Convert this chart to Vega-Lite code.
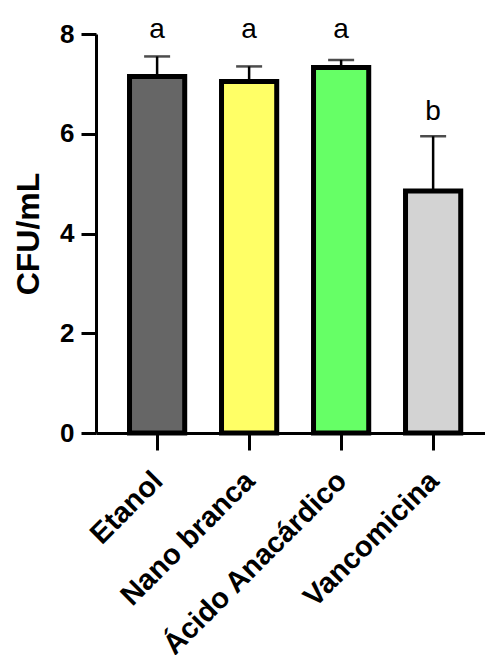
{
  "$schema": "https://vega.github.io/schema/vega-lite/v6.json",
  "width": 389,
  "height": 399,
  "autosize": {"type": "none"},
  "padding": {"left": 96, "top": 34, "right": 0, "bottom": 222},
  "background": "white",
  "config": {
    "view": {"stroke": null},
    "font": "Liberation Sans",
    "axis": {
      "domainColor": "black",
      "domainWidth": 3,
      "tickColor": "black",
      "tickWidth": 3,
      "grid": false,
      "labelColor": "black",
      "titleColor": "black",
      "labelFont": "Liberation Sans",
      "titleFont": "Liberation Sans"
    }
  },
  "data": {
    "values": [
      {"grupo": "Etanol", "media": 7.15, "erro": 7.55, "letra": "a", "letra_y": 7.92},
      {"grupo": "Nano branca", "media": 7.05, "erro": 7.35, "letra": "a", "letra_y": 7.92},
      {"grupo": "Ácido Anacárdico", "media": 7.33, "erro": 7.48, "letra": "a", "letra_y": 7.92},
      {"grupo": "Vancomicina", "media": 4.85, "erro": 5.95, "letra": "b", "letra_y": 6.27}
    ]
  },
  "encoding": {
    "x": {
      "field": "grupo",
      "type": "nominal",
      "sort": null,
      "scale": {"paddingInner": 0.4, "paddingOuter": 0.314, "align": 0.58},
      "axis": {
        "title": null,
        "labelAngle": -45,
        "labelAlign": "right",
        "labelBaseline": "top",
        "labelFontSize": 29,
        "labelFontWeight": "bold",
        "labelLimit": 0,
        "tickSize": 17,
        "labelPadding": 16,
        "labelOffset": -9
      }
    }
  },
  "layer": [
    {
      "mark": {"type": "rule", "color": "black", "strokeWidth": 2.5},
      "encoding": {
        "y": {"field": "media", "type": "quantitative"},
        "y2": {"field": "erro"}
      }
    },
    {
      "mark": {"type": "tick", "color": "black", "thickness": 2.5, "size": 26, "orient": "horizontal"},
      "encoding": {
        "y": {"field": "erro", "type": "quantitative"}
      }
    },
    {
      "mark": {"type": "bar", "stroke": "black", "strokeWidth": 5, "opacity": 1},
      "encoding": {
        "y": {
          "field": "media",
          "type": "quantitative",
          "scale": {"domain": [0, 8], "nice": false},
          "axis": {
            "title": "CFU/mL",
            "values": [0, 2, 4, 6, 8],
            "tickSize": 15,
            "labelPadding": 7,
            "labelFontSize": 26,
            "labelFontWeight": "bold",
            "titleFontSize": 32,
            "titleFontWeight": "bold",
            "titlePadding": 14
          }
        },
        "fill": {
          "field": "grupo",
          "type": "nominal",
          "sort": null,
          "scale": {
            "domain": ["Etanol", "Nano branca", "Ácido Anacárdico", "Vancomicina"],
            "range": ["#666666", "#ffff66", "#66ff66", "#d3d3d3"]
          },
          "legend": null
        }
      }
    },
    {
      "mark": {"type": "text", "fontSize": 28, "baseline": "alphabetic", "align": "center", "color": "black", "font": "Liberation Sans"},
      "encoding": {
        "y": {"field": "letra_y", "type": "quantitative"},
        "text": {"field": "letra"}
      }
    }
  ]
}
